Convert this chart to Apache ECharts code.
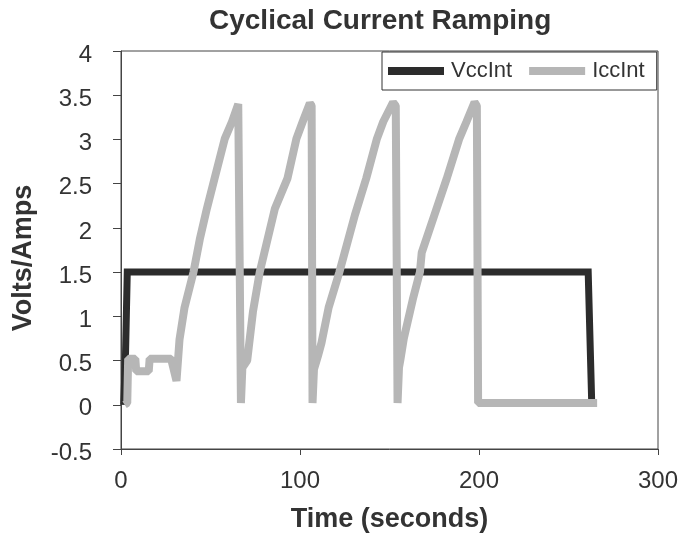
<!DOCTYPE html>
<html>
<head>
<meta charset="utf-8">
<script src="https://cdn.jsdelivr.net/npm/echarts@6/dist/echarts.min.js"></script>
<style>
  html, body { margin: 0; padding: 0; background: #fff; }
  #main { width: 698px; height: 542px; }
</style>
</head>
<body>
<div id="main"></div>
<script>
// VccInt (volts)
var vccTime  = [1.5, 2.5, 3.5, 261, 263];
var vccValue = [0, 0.55, 1.5, 1.5, 0];

// IccInt (amps) - sawtooth ramps
var iccTime = [
    2, 3.5, 4, 8, 8.5, 15.5, 16, 28, 31, 32.7, 35.5, 40.5, 44, 48, 52.3, 58, 62, 65.5, 66.5, 67,
    67.8, 70.5, 73.7, 77.5, 86, 93, 98, 101.5, 105.5, 106.5, 107,
    107.8, 110, 112, 116, 122, 130.6, 137, 143, 146.5, 152, 153.5, 154.5,
    155.3, 156, 158, 163, 167, 168, 175, 182, 189, 193, 197.5, 198.8, 199.5,
    200.5, 266
];
var iccValue = [
    0, 0.02, 0.52, 0.52, 0.38, 0.38, 0.52, 0.52, 0.27, 0.74, 1.1, 1.5, 1.87, 2.22, 2.56, 3.01, 3.2, 3.4, 3.38, 0.02,
    0.42, 0.5, 1.05, 1.5, 2.22, 2.56, 3.01, 3.2, 3.41, 3.38, 0.02,
    0.4, 0.55, 0.7, 1.1, 1.5, 2.14, 2.56, 3.01, 3.2, 3.42, 3.38, 0.02,
    0.42, 0.5, 0.75, 1.19, 1.5, 1.72, 2.14, 2.56, 3.01, 3.2, 3.42, 3.38, 0.02,
    0.02, 0.02
];

var xTicks = [0, 100, 200, 300];
var yMin = -0.5, yMax = 4, yStep = 0.5;

function pairs(xs, ys) {
    var out = [];
    for (var i = 0; i < xs.length; i++) {
        out.push([xs[i], ys[i]]);
    }
    return out;
}

var font = 'Liberation Sans, Arial, sans-serif';
var myChart = echarts.init(document.getElementById('main'));

myChart.setOption({
    backgroundColor: '#fff',
    animation: false,
    textStyle: { fontFamily: font },
    title: {
        text: 'Cyclical Current Ramping',
        left: 209,
        top: 7,
        padding: 0,
        textStyle: { fontFamily: font, fontSize: 28, fontWeight: 'bold', color: '#333' }
    },
    legend: {
        data: ['VccInt', 'IccInt'],
        left: 382,
        top: 52,
        orient: 'horizontal',
        icon: 'rect',
        itemWidth: 56,
        itemHeight: 8,
        itemGap: 17,
        padding: [8, 12, 8, 6],
        borderColor: '#333',
        borderWidth: 1,
        backgroundColor: '#fff',
        textStyle: { fontFamily: font, fontSize: 22, color: '#333', padding: [0, 0, 0, 2] }
    },
    grid: {
        left: 121,
        right: 40,
        top: 51,
        bottom: 93,
        show: true,
        borderColor: '#444',
        borderWidth: 1,
        backgroundColor: 'transparent'
    },
    xAxis: {
        type: 'value',
        min: xTicks[0],
        max: xTicks[xTicks.length - 1],
        interval: 100,
        name: 'Time (seconds)',
        nameLocation: 'middle',
        nameGap: 57,
        nameTextStyle: { fontFamily: font, fontSize: 27, fontWeight: 'bold', color: '#333' },
        axisLine: { show: true, onZero: false, lineStyle: { color: '#444', width: 1 } },
        axisTick: { show: true, inside: false, length: 6, lineStyle: { color: '#444' } },
        axisLabel: { fontFamily: font, fontSize: 24, color: '#333', margin: 20 },
        splitLine: { show: false }
    },
    yAxis: {
        type: 'value',
        min: yMin,
        max: yMax,
        interval: yStep,
        name: 'Volts/Amps',
        nameLocation: 'middle',
        nameGap: 84,
        nameTextStyle: { fontFamily: font, fontSize: 27, fontWeight: 'bold', color: '#333', padding: [0, 16, 0, 0] },
        axisLine: { show: true, onZero: false, lineStyle: { color: '#444', width: 1 } },
        axisTick: { show: true, inside: false, length: 8, lineStyle: { color: '#444' } },
        axisLabel: {
            fontFamily: font, fontSize: 24, color: '#333', margin: 29,
            verticalAlign: 'top', lineHeight: 8
        },
        splitLine: { show: false }
    },
    series: [{
        name: 'VccInt',
        type: 'line',
        data: pairs(vccTime, vccValue),
        showSymbol: false,
        color: '#2c2c2c',
        lineStyle: { color: '#2c2c2c', width: 7, join: 'miter' },
        z: 2
    }, {
        name: 'IccInt',
        type: 'line',
        data: pairs(iccTime, iccValue),
        showSymbol: false,
        color: '#b6b6b6',
        lineStyle: { color: '#b6b6b6', width: 8 },
        z: 3
    }]
});
</script>
</body>
</html>
